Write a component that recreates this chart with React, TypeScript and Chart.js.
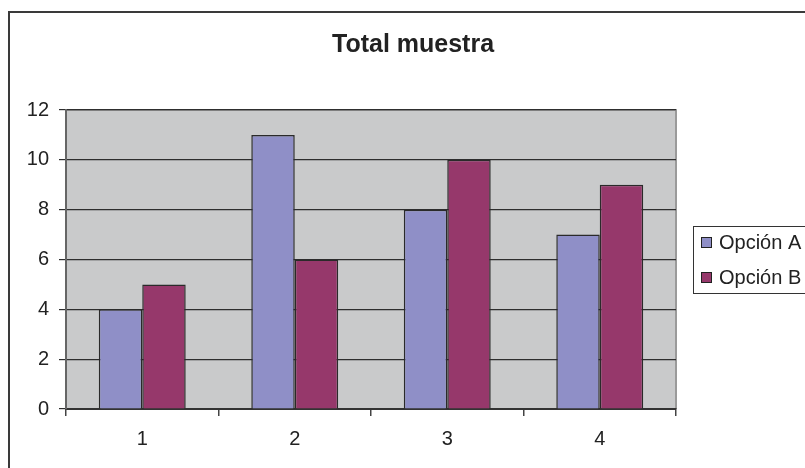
import React, { useEffect, useRef } from "react";
import { Chart, registerables } from "chart.js";

Chart.register(...registerables);

const title = "Total muestra";
const categories = ["1", "2", "3", "4"];
const seriesNames = ["Opción A", "Opción B"];
const opcionA = [4, 11, 8, 7];
const opcionB = [5, 6, 10, 9];
const colors = ["#8F8FC7", "#96386B"];
const yMin = 0;
const yMax = 12;
const yStep = 2;

const FONT = "Arial, 'Liberation Sans', sans-serif";

const decorPlugin = {
  id: "decor",
  beforeDraw(chart: any) {
    const { ctx, chartArea } = chart;
    ctx.save();
    ctx.fillStyle = "#C9CACB";
    ctx.fillRect(chartArea.left, chartArea.top, chartArea.right - chartArea.left, chartArea.bottom - chartArea.top);
    ctx.strokeStyle = "#9A9A9A";
    ctx.lineWidth = 2;
    ctx.beginPath();
    ctx.moveTo(chartArea.left, chartArea.top);
    ctx.lineTo(chartArea.right, chartArea.top);
    ctx.lineTo(chartArea.right, chartArea.bottom);
    ctx.stroke();
    ctx.restore();
  },
  afterDraw(chart: any) {
    const { ctx } = chart;
    ctx.save();
    // title
    ctx.fillStyle = "#222";
    ctx.font = `bold 25px ${FONT}`;
    ctx.textAlign = "center";
    ctx.textBaseline = "middle";
    ctx.fillText(title, 413, 45);
    // legend
    const bx = 693.5, by = 226.5, bh = 67;
    ctx.strokeStyle = "#333";
    ctx.lineWidth = 1;
    ctx.strokeRect(bx, by, 200, bh);
    ctx.font = `20px ${FONT}`;
    ctx.textAlign = "left";
    const ys = [242, 277];
    chart.data.datasets.forEach((ds: any, i: number) => {
      const y = ys[i];
      ctx.fillStyle = ds.backgroundColor;
      ctx.fillRect(701, y - 5, 10, 10);
      ctx.strokeStyle = "#222";
      ctx.lineWidth = 1;
      ctx.strokeRect(701.5, y - 4.5, 10, 10);
      ctx.fillStyle = "#222";
      ctx.fillText(ds.label, 719, y + 1);
    });
    ctx.restore();
  },
};

export default function App() {
  const ref = useRef<HTMLCanvasElement>(null);
  useEffect(() => {
    if (!ref.current) return;
    const chart = new Chart(ref.current, {
      type: "bar",
      data: {
        labels: categories,
        datasets: [
          { label: seriesNames[0], data: opcionA, backgroundColor: colors[0], borderColor: "#2A2A2A", borderWidth: 1.5 },
          { label: seriesNames[1], data: opcionB, backgroundColor: colors[1], borderColor: "#2A2A2A", borderWidth: 1.5 },
        ],
      },
      options: {
        animation: false,
        responsive: false,
        devicePixelRatio: 1,
        layout: { padding: { top: 110, right: 129, left: 0, bottom: 0 } },
        plugins: { legend: { display: false }, title: { display: false }, tooltip: { enabled: false } },
        datasets: { bar: { categoryPercentage: 0.57, barPercentage: 1 } },
        scales: {
          x: {
            offset: true,
            afterFit: (s: any) => { s.height = 59; },
            grid: { offset: true, drawOnChartArea: false, drawTicks: true, tickLength: 7, color: "#444", lineWidth: 1.5 },
            border: { display: true, color: "#333", width: 2 },
            ticks: { color: "#222", font: { family: FONT, size: 20 }, padding: 11 },
          },
          y: {
            min: yMin,
            max: yMax,
            afterFit: (s: any) => { s.width = 66; },
            grid: { color: "#2E2E2E", lineWidth: 1.2, tickLength: 7, drawTicks: true },
            border: { display: true, color: "#666", width: 2 },
            ticks: { stepSize: yStep, color: "#222", font: { family: FONT, size: 20 }, padding: 10 },
          },
        },
      },
      plugins: [decorPlugin],
    });
    return () => chart.destroy();
  }, []);
  return (
    <>
      <div style={{ position: "fixed", left: 8, top: 11, width: 900, height: 600, borderTop: "2px solid #3A3A3A", borderLeft: "2px solid #3A3A3A" }} />
      <canvas ref={ref} width={805} height={468} style={{ position: "fixed", left: 0, top: 0, width: 805, height: 468 }} />
    </>
  );
}
